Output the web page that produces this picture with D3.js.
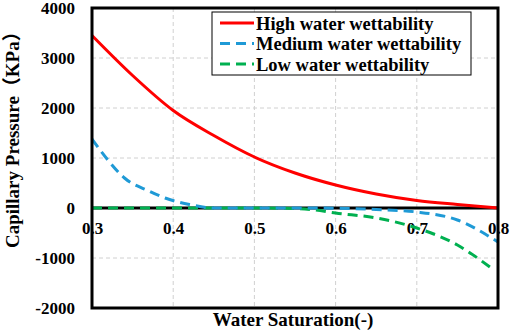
<!DOCTYPE html>
<html>
<head>
<meta charset="utf-8">
<script src="https://cdn.jsdelivr.net/npm/d3@7"></script>
<style>
  body { margin: 0; background: #fff; }
</style>
</head>
<body>
<script>
// data
const xTicks = [0.3, 0.4, 0.5, 0.6, 0.7, 0.8];
const yTicks = [-2000, -1000, 0, 1000, 2000, 3000, 4000];

const highSw = [0.3, 0.35, 0.4, 0.45, 0.5, 0.55, 0.6, 0.65, 0.7, 0.75, 0.8];
const highPc = [3450, 2650, 1950, 1450, 1020, 700, 460, 280, 150, 70, 0];

const medSw = [0.3, 0.32, 0.34, 0.37, 0.39, 0.42, 0.45, 0.5, 0.55, 0.6, 0.65, 0.7, 0.75, 0.8];
const medPc = [1380, 950, 600, 340, 200, 70, 0, 0, 0, -5, -30, -80, -240, -680];

const lowSw = [0.3, 0.4, 0.5, 0.55, 0.57, 0.6, 0.65, 0.7, 0.75, 0.79];
const lowPc = [0, 0, 0, -10, -30, -100, -200, -400, -740, -1180];

const seriesNames = ["High water wettability", "Medium water wettability", "Low water wettability"];
const seriesColors = ["#ff0000", "#1f9ad6", "#00b050"];
const seriesDash = [null, "10,6", "10,6"];

const FONT = "Liberation Serif";
const W = 512, H = 335;
const margin = { top: 8, right: 14, bottom: 27, left: 92 };

const svg = d3.select("body").append("svg")
  .attr("width", W)
  .attr("height", H);

const x = d3.scaleLinear().domain([0.3, 0.8]).range([margin.left, W - margin.right]);
const y = d3.scaleLinear().domain([-2000, 4000]).range([H - margin.bottom, margin.top]);

function serif(sel, size) {
  sel.attr("font-family", FONT).attr("font-weight", "bold").attr("font-size", size).attr("fill", "#000");
}

// grid
svg.append("g").selectAll("line")
  .data(xTicks.slice(1, -1))
  .join("line")
  .attr("x1", d => x(d)).attr("x2", d => x(d))
  .attr("y1", y(4000)).attr("y2", y(-2000))
  .attr("stroke", "#d0d0d0").attr("stroke-dasharray", "4,3");

svg.append("g").selectAll("line")
  .data(yTicks.filter(d => d !== 0 && d !== 4000 && d !== -2000))
  .join("line")
  .attr("x1", x(0.3)).attr("x2", x(0.8))
  .attr("y1", d => y(d)).attr("y2", d => y(d))
  .attr("stroke", "#d0d0d0").attr("stroke-dasharray", "4,3");

// y axis labels
const yAxis = svg.append("g")
  .attr("transform", `translate(${x(0.3)},0)`)
  .call(d3.axisLeft(y).tickValues(yTicks).tickSize(0).tickPadding(17).tickFormat(d => String(d)));
yAxis.select(".domain").remove();
yAxis.selectAll("text").call(serif, 17);

// x axis at zero
const xAxis = svg.append("g")
  .attr("transform", `translate(0,${y(0)})`)
  .call(d3.axisBottom(x).tickValues(xTicks).tickSize(0).tickPadding(14).tickFormat(d3.format(".1f")));
xAxis.select(".domain").remove();
xAxis.selectAll("text").call(serif, 17);

// zero line
svg.append("line")
  .attr("x1", x(0.3)).attr("x2", x(0.8))
  .attr("y1", y(0)).attr("y2", y(0))
  .attr("stroke", "#000").attr("stroke-width", 3);

// curves
const line = d3.line().x(d => x(d[0])).y(d => y(d[1])).curve(d3.curveMonotoneX);
const series = [
  d3.zip(lowSw, lowPc),
  d3.zip(medSw, medPc),
  d3.zip(highSw, highPc)
];
const order = [2, 1, 0];
series.forEach((s, i) => {
  const k = order[i];
  svg.append("path")
    .datum(s)
    .attr("fill", "none")
    .attr("stroke", seriesColors[k])
    .attr("stroke-width", 3)
    .attr("stroke-dasharray", seriesDash[k])
    .attr("d", line);
});

// frame
svg.append("rect")
  .attr("x", x(0.3)).attr("y", y(4000))
  .attr("width", x(0.8) - x(0.3)).attr("height", y(-2000) - y(4000))
  .attr("fill", "none").attr("stroke", "#000").attr("stroke-width", 3);

// legend
const lg = svg.append("g").attr("transform", "translate(212,12)");
lg.append("rect").attr("width", 259).attr("height", 63)
  .attr("fill", "#fff").attr("stroke", "#000").attr("stroke-width", 1);
seriesNames.forEach((name, i) => {
  const yy = 11 + i * 20.5;
  lg.append("line")
    .attr("x1", 8).attr("x2", 42).attr("y1", yy).attr("y2", yy)
    .attr("stroke", seriesColors[i]).attr("stroke-width", 3)
    .attr("stroke-dasharray", seriesDash[i]);
  lg.append("text").attr("x", 44).attr("y", yy + 6.5)
    .call(serif, 18.5).text(name);
});

// titles
svg.append("text")
  .attr("x", 293).attr("y", 326)
  .attr("text-anchor", "middle").call(serif, 19)
  .text("Water Saturation(-)");

const yt = svg.append("text")
  .attr("transform", "translate(19,248) rotate(-90)")
  .attr("text-anchor", "start").call(serif, 19);
yt.append("tspan").text("Capillary Pressure");
yt.append("tspan").attr("font-family", "Noto Sans CJK SC").text("（");
yt.append("tspan").text("KPa");
yt.append("tspan").attr("font-family", "Noto Sans CJK SC").text("）");
</script>
</body>
</html>
